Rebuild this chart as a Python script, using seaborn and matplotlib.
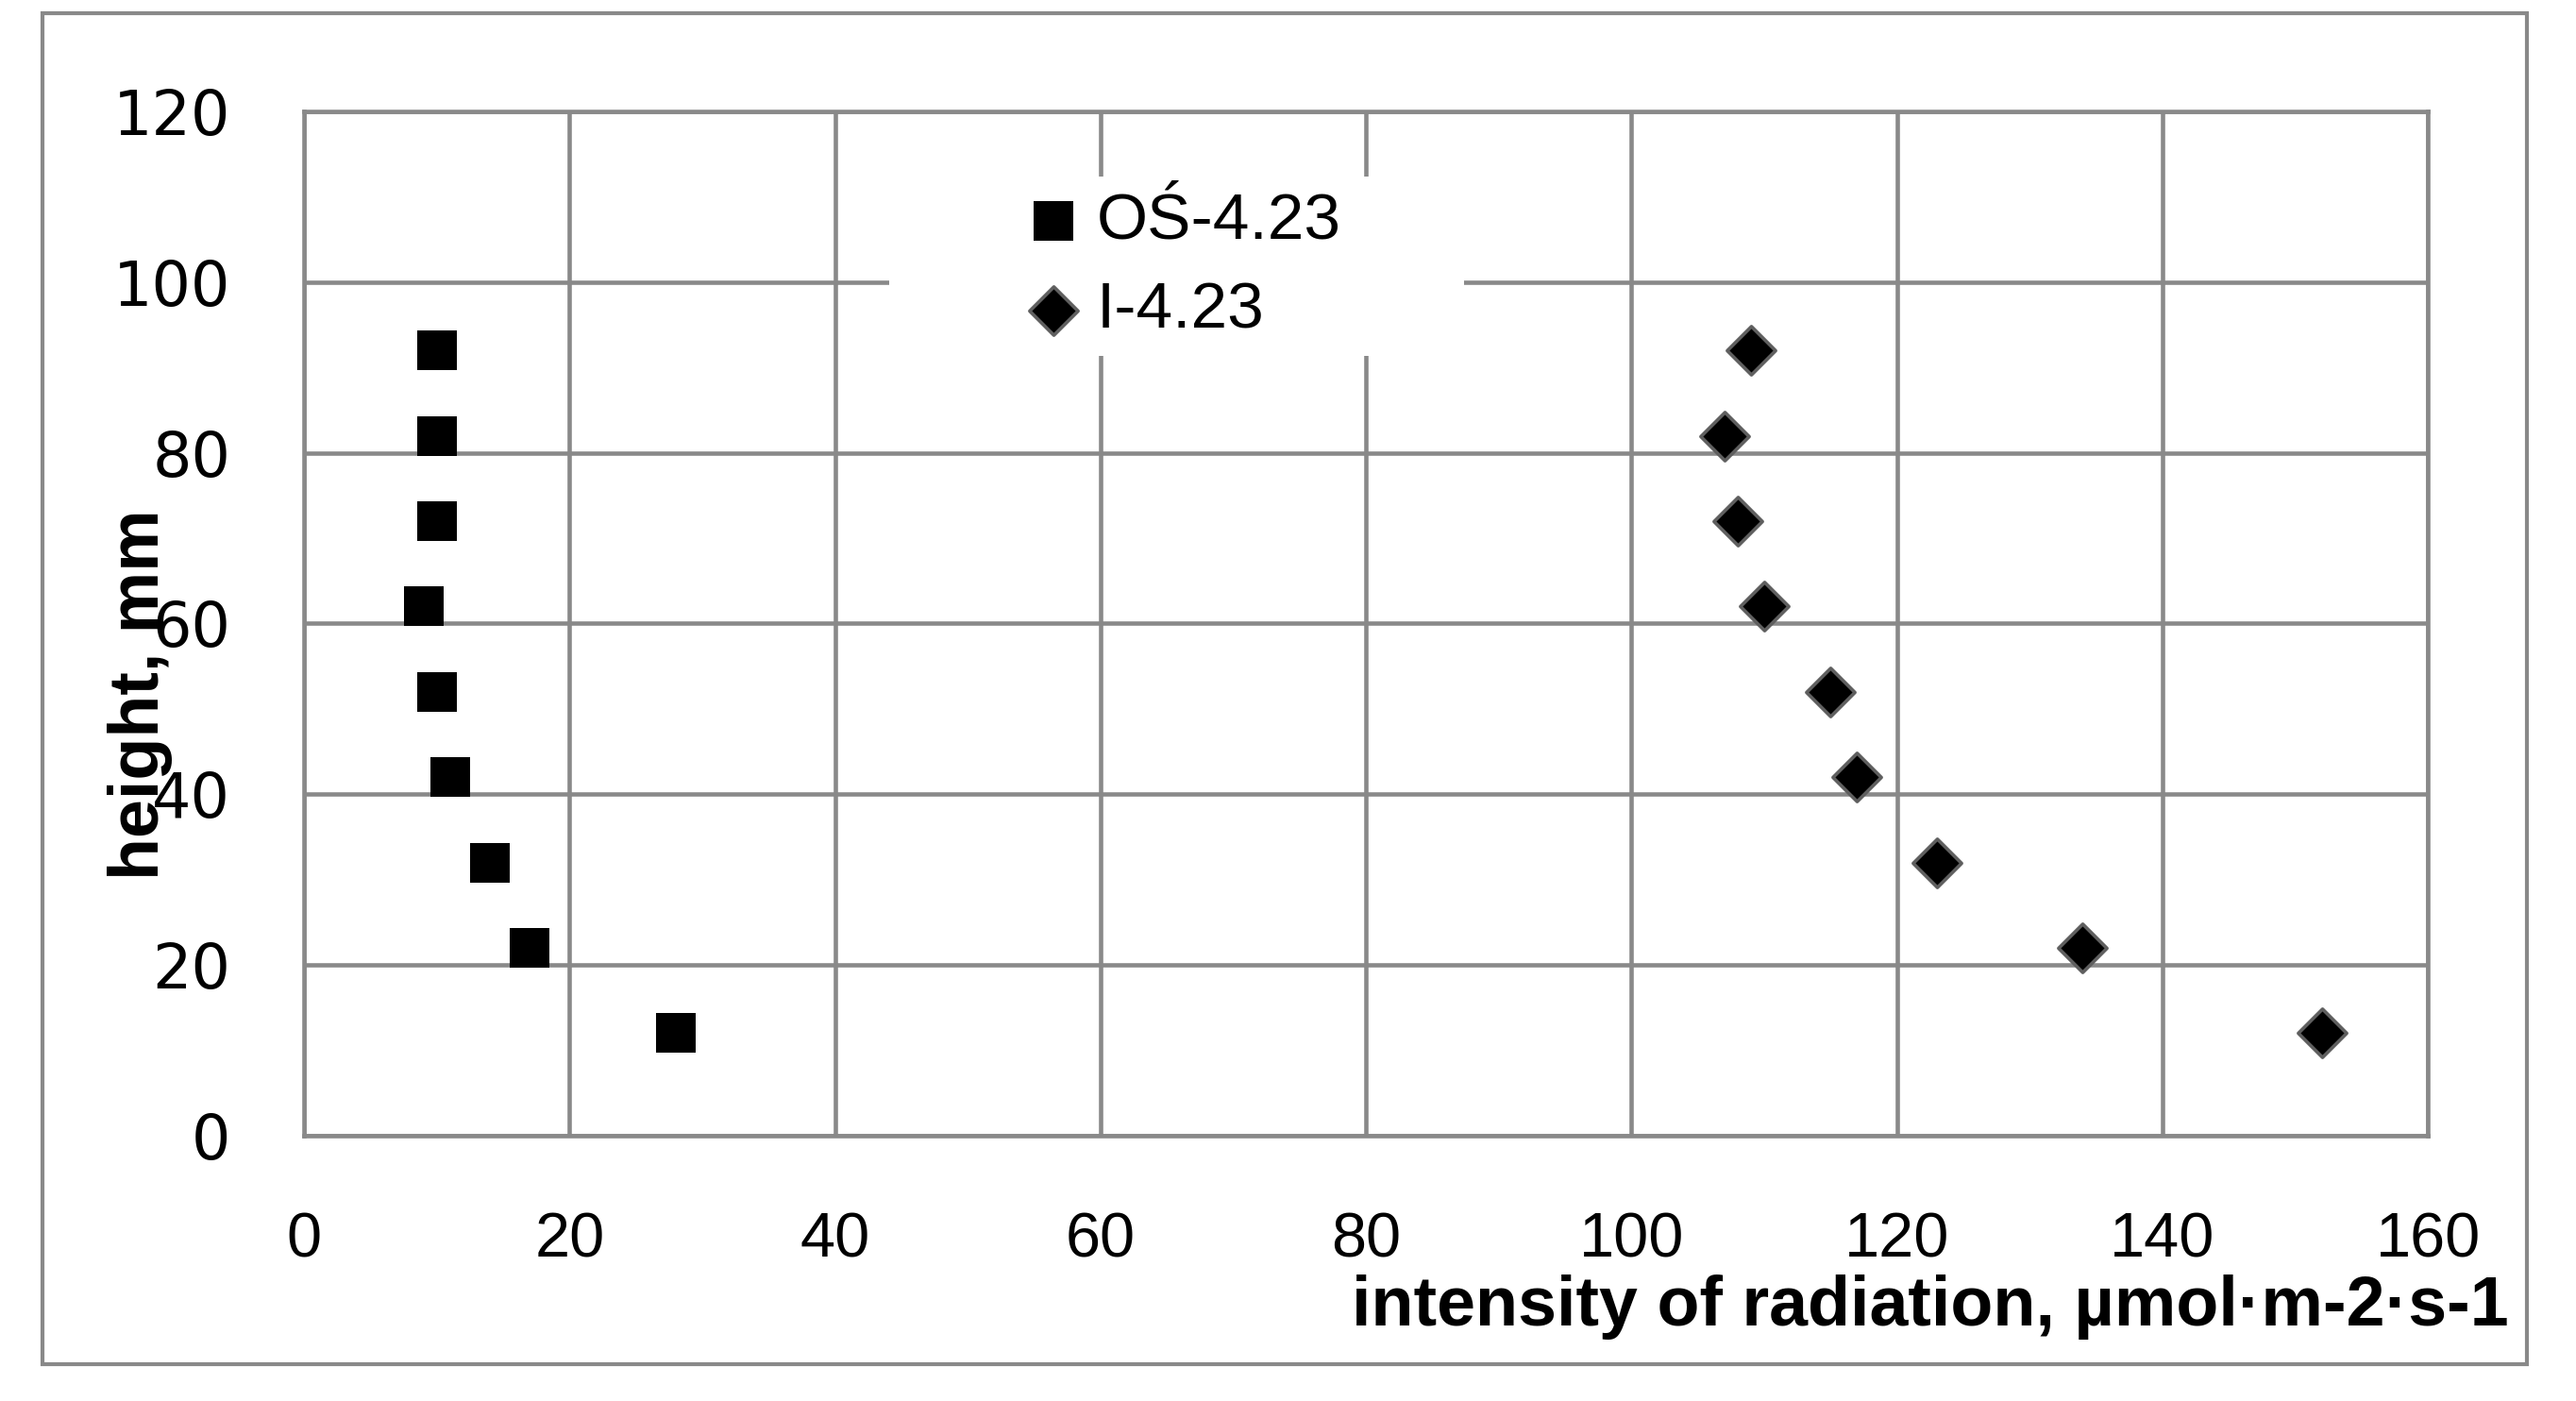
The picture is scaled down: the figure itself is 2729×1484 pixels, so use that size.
import matplotlib
matplotlib.use("Agg")
import matplotlib.pyplot as plt
import matplotlib.patches as patches
import seaborn as sns
import pandas as pd

# readings taken off the chart
heights = [92, 82, 72, 62, 52, 42, 32, 22, 12]
os_423 = [10, 10, 10, 9, 10, 11, 14, 17, 28]
i_423 = [109, 107, 108, 110, 115, 117, 123, 134, 152]
series_names = ["OŚ-4.23", "I-4.23"]
x_ticks = [0, 20, 40, 60, 80, 100, 120, 140, 160]
y_ticks = [0, 20, 40, 60, 80, 100, 120]

GRID = "#898989"
SQ_SIZE = 950
DI_SIZE = 680

df_os = pd.DataFrame({"x": os_423, "y": heights})
df_i = pd.DataFrame({"x": i_423, "y": heights})

sns.set_theme(style="white")
plt.rcParams["font.family"] = ["Liberation Sans", "DejaVu Sans"]
plt.rcParams["text.color"] = "black"
plt.rcParams["xtick.color"] = "black"
plt.rcParams["ytick.color"] = "black"
plt.rcParams["axes.labelcolor"] = "black"

fig = plt.figure(figsize=(27.29, 14.84), dpi=100)
ax = fig.add_axes([0.118, 0.1894, 0.8245, 0.7311])

sns.scatterplot(data=df_os, x="x", y="y", marker="s", s=SQ_SIZE, color="black",
                edgecolor="black", linewidth=0, label=series_names[0], ax=ax, zorder=3)
sns.scatterplot(data=df_i, x="x", y="y", marker="D", s=DI_SIZE, color="black",
                edgecolor="#5f5f5f", linewidth=2.6, label=series_names[1], ax=ax, zorder=3)

ax.set_xlim(0, 160)
ax.set_ylim(0, 120)
ax.set_xticks(x_ticks)
ax.set_yticks(y_ticks)
ax.grid(True, color=GRID, linewidth=3.3)
ax.set_axisbelow(True)
for sp in ax.spines.values():
    sp.set_color(GRID)
    sp.set_linewidth(3.3)

ax.tick_params(axis="both", length=0, colors="black")
ax.tick_params(axis="x", pad=58)
ax.tick_params(axis="y", pad=56)
for t in ax.get_xticklabels():
    t.set_fontsize(48)
    t.set_family(["Liberation Sans", "DejaVu Sans"])
for t in ax.get_yticklabels():
    t.set_fontsize(47)
    t.set_family(["DejaVu Sans"])

ax.set_xlabel("intensity of radiation, µmol·m-2·s-1", fontsize=53, fontweight="bold",
              ha="right", va="center", color="black")
ax.xaxis.set_label_coords(1.0378, -0.167)
ax.set_ylabel("height, mm", fontsize=53, fontweight="bold", ha="center", va="center",
              color="black")
ax.yaxis.set_label_coords(-0.0773, 0.431)

# white patch behind the legend, breaks the grid lines like the original
ax.add_patch(patches.Rectangle((0.2756, 0.761), 0.2704, 0.175, transform=ax.transAxes,
                               facecolor="white", edgecolor="none", zorder=2.5))
leg = ax.legend(loc="center", bbox_to_anchor=(0.416, 0.849), frameon=False,
                fontsize=50, handlelength=0.6, handletextpad=0.35,
                labelspacing=0.45, borderpad=0)
leg.set_zorder(4)
for h, sz in zip(leg.legend_handles, [SQ_SIZE, DI_SIZE]):
    h.set_sizes([sz])
for t in leg.get_texts():
    t.set_color("black")

# outer chart border
fig.patches.append(patches.Rectangle((45 / 2729, 1 - 1445 / 1484), 2632 / 2729, 1431 / 1484,
                                     transform=fig.transFigure, fill=False,
                                     edgecolor=GRID, linewidth=3))

fig.savefig("out.png", dpi=100)
